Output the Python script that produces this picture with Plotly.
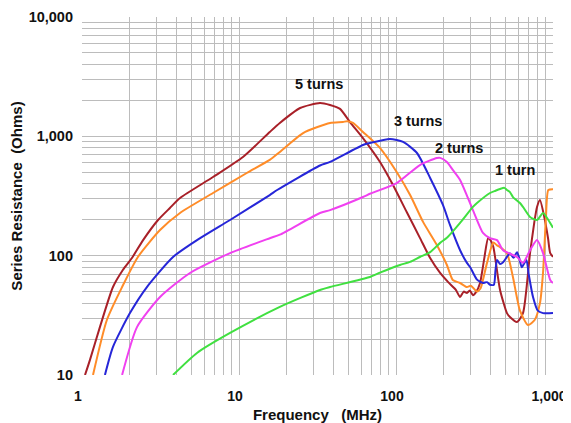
import plotly.graph_objects as go

# ---- data ----
names = ["5 turns", "4 turns", "3 turns", "2 turns", "1 turn"]
colors = ["#A82028", "#FF8C28", "#2626D8", "#F040F0", "#40E040"]

f5 = [1.045, 1.124, 1.3, 1.575, 1.82, 2.08, 2.45, 3.05, 3.63, 4.21, 6.83, 10.6, 15.7, 18.2, 24.5, 32.8, 38, 44, 50.9, 61.6, 79.1, 95.7, 117, 142, 165, 191, 215, 240, 256, 270, 283, 295, 309, 325, 343, 365, 386, 400, 417, 460, 509, 532, 590, 644, 714, 760, 791, 826, 880, 930, 960, 1000]
r5 = [10, 13.4, 25.2, 54.6, 75.9, 95.6, 135, 199, 251, 304, 456, 671, 1087, 1294, 1727, 1903, 1832, 1700, 1318, 968, 610, 391, 232, 141, 95.5, 71.6, 60, 52, 45, 50, 48.7, 51, 46.7, 50, 59, 95, 140, 135, 118, 51.6, 33, 30.6, 27.8, 33, 105, 190, 256, 293, 211, 140, 105, 98]

f4 = [1.175, 1.44, 1.8, 2.27, 3.14, 4.21, 6.83, 11.2, 15.7, 18.2, 25.6, 38, 45.9, 48.8, 53.2, 61.6, 79, 101, 123, 149, 182, 211, 230, 256, 283, 300, 328, 345, 358, 380, 417, 440, 460, 509, 556, 616, 693, 764, 826, 864, 900, 934, 1000]
r4 = [10, 28.9, 54.6, 97.5, 164, 228, 335, 493, 634, 740, 1066, 1294, 1318, 1340, 1294, 1087, 799, 502, 322, 191, 123, 83.5, 62.5, 59, 54.6, 56, 50, 53, 62.5, 87, 129, 122, 118, 105, 66, 34.6, 26.2, 28.9, 40, 72, 200, 355, 360]

f3 = [1.4, 1.575, 2.02, 2.59, 3.8, 5.4, 8.77, 15.7, 17.5, 32.8, 38, 61.6, 68.3, 91.6, 111, 136, 165, 199, 221, 256, 283, 297, 328, 358, 380, 397, 420, 430, 440, 460, 481, 510, 532, 560, 590, 610, 633, 677, 700, 746, 800, 864, 1000]
r3 = [10, 17.2, 33, 54.6, 97.5, 135, 199, 322, 355, 570, 610, 846, 879, 950, 897, 725, 448, 266, 180, 111, 87, 80, 63, 59, 60, 57, 57, 75, 92, 85, 88, 98, 105, 96, 107, 95, 80, 92, 70, 45, 34.6, 33, 33]

f2 = [1.8, 2.24, 3.14, 4.87, 8.77, 15.7, 18.2, 32.8, 38, 61.6, 68.3, 101, 142, 182, 191, 211, 230, 256, 309, 358, 397, 440, 481, 590, 644, 714, 791, 864, 960, 1000]
r2 = [10, 25.2, 45, 71.6, 105, 140, 150, 228, 241, 310, 330, 406, 575, 658, 660, 610, 523, 431, 241, 155, 140, 135, 111, 97.5, 87, 111, 135, 105, 62.5, 59]

f1 = [3.8, 5.4, 8.77, 18.2, 32.8, 38, 68.3, 79, 106, 123, 142, 165, 191, 211, 256, 309, 328, 397, 430, 460, 490, 509, 532, 556, 616, 644, 714, 791, 864, 934, 1000]
r1 = [10, 15.3, 22.5, 37.2, 51.6, 54.6, 66.3, 72, 83.6, 88.6, 97.5, 107, 128, 141, 188, 256, 276, 335, 350, 362, 370, 355, 341, 310, 276, 256, 211, 199, 228, 199, 171]

x_ticks = [1, 10, 100, 1000]
x_labels = ["1", "10", "100", "1,000"]
y_ticks = [10, 100, 1000, 10000]
y_labels = ["10", "100", "1,000", "10,000"]

label_texts = ["5 turns", "3 turns", "2 turns", "1 turn"]

series = [(f5, r5), (f4, r4), (f3, r3), (f2, r2), (f1, r1)]

fig = go.Figure()
for (fx, ry), nm, col in zip(series, names, colors):
    fig.add_trace(go.Scatter(x=fx, y=ry, mode="lines", name=nm,
                             line=dict(color=col, width=2, shape="spline", smoothing=0.6)))

minor_x = [m * d for d in (1, 10, 100) for m in range(2, 10)]
minor_y = [m * d for d in (10, 100, 1000) for m in range(2, 10)]

grid = "#bcbcbc"
FAM = "Arial, Liberation Sans, sans-serif"
xtickfont = dict(family=FAM, size=14, color="#111111", weight="bold")
ytickfont = dict(family=FAM, size=14.5, color="#111111", weight="bold")
titlefont = dict(family=FAM, size=15, color="#111111", weight="bold")

fig.update_xaxes(type="log", range=[0, 3], tickmode="array", tickvals=x_ticks, ticktext=x_labels,
                 showgrid=True, gridcolor=grid, gridwidth=1, showline=False, zeroline=False,
                 ticks="", tickfont=xtickfont, ticklabelstandoff=11, ticklabelshift=-4, automargin=False,
                 ticklabeloverflow="allow",
                 minor=dict(tickmode="array", tickvals=minor_x, showgrid=True, gridcolor=grid, gridwidth=1, ticks=""),
                 title=dict(text="Frequency\u00a0\u00a0 (MHz)", font=titlefont, standoff=11))
fig.update_yaxes(type="log", range=[1, 4], tickmode="array", tickvals=y_ticks, ticktext=y_labels,
                 showgrid=True, gridcolor=grid, gridwidth=1, showline=False, zeroline=False,
                 ticks="", tickfont=ytickfont, ticklabelstandoff=8, automargin=False,
                 minor=dict(tickmode="array", tickvals=minor_y, showgrid=True, gridcolor=grid, gridwidth=1, ticks=""),
                 title=dict(text="Series Resistance\u00a0 (Ohms)", font=titlefont, standoff=5))

# label boxes (paper coords) and texts
boxes = [(0.4246, 0.6008, 0.7682, 0.8464),
         (0.6476, 0.7750, 0.6788, 0.7402),
         (0.7389, 0.8599, 0.6089, 0.6620),
         (0.8599, 1.0000, 0.5251, 0.6006)]
text_pos = [(0.448, 0.8128), (0.6582, 0.7095), (0.7452, 0.6341), (0.8726, 0.5726)]
for (x0, x1, y0, y1) in boxes:
    fig.add_shape(type="rect", xref="paper", yref="paper", x0=x0, x1=x1, y0=y0, y1=y1,
                  fillcolor="white", line=dict(width=0), layer="between")
for txt, (tx, ty) in zip(label_texts, text_pos):
    fig.add_annotation(text=txt, xref="paper", yref="paper", x=tx, y=ty, xanchor="left", yanchor="middle",
                       showarrow=False, font=dict(family=FAM, size=14.5, color="#111111", weight="bold"))

# page body has an 8px default margin, so the plot area is offset accordingly
fig.update_layout(width=571, height=415, margin=dict(l=74, r=26, t=9, b=48),
                  paper_bgcolor="white", plot_bgcolor="white", showlegend=False)

fig.write_html("out.html")
